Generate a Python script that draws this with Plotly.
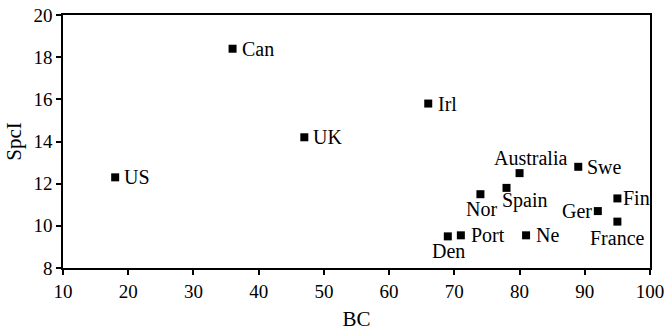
import plotly.graph_objects as go

countries = ["US", "Can", "UK", "Irl", "Australia", "Swe", "Spain", "Nor", "Fin", "Ger", "France", "Den", "Port", "Ne"]
bc = [18, 36, 47, 66, 80, 89, 78, 74, 95, 92, 95, 69, 71, 81]
spci = [12.3, 18.4, 14.2, 15.8, 12.5, 12.8, 11.8, 11.5, 11.3, 10.7, 10.2, 9.5, 9.55, 9.55]

# label placement: (xanchor, xshift, yshift)
placement = {
    "US": ("left", 7, 0), "Can": ("left", 7, 0), "UK": ("left", 7, 0), "Irl": ("left", 8, 0),
    "Australia": ("center", 11, 15), "Swe": ("left", 7, 0), "Spain": ("center", 18, -13),
    "Nor": ("center", 1, -15), "Fin": ("left", 4, 0), "Ger": ("right", -4, 0),
    "France": ("center", 0, -16), "Den": ("center", 1, -15), "Port": ("left", 8, 0), "Ne": ("left", 8, 0),
}

font = "Liberation Serif"

fig = go.Figure()
fig.add_trace(go.Scatter(x=bc, y=spci, mode="markers",
                         marker=dict(symbol="square", size=8, color="black"),
                         hoverinfo="text", text=countries))

for c, x, y in zip(countries, bc, spci):
    xa, xs, ys = placement[c]
    fig.add_annotation(x=x, y=y, text=c, showarrow=False, xanchor=xa, yanchor="middle",
                       xshift=xs, yshift=ys, font=dict(family=font, size=20, color="black"))

fig.update_layout(
    width=669, height=331,
    margin=dict(l=63, r=19, t=15, b=63, autoexpand=False),
    plot_bgcolor="white", paper_bgcolor="white",
    showlegend=False,
    font=dict(family=font, size=19, color="black"),
)
fig.update_xaxes(range=[10, 100], dtick=10, showgrid=False, zeroline=False, automargin=False,
                 showline=True, linecolor="black", linewidth=1.5, mirror=True,
                 ticks="outside", ticklen=5, tickcolor="black", tickwidth=1.5,
                 title=dict(text="BC", font=dict(size=21), standoff=12))
fig.update_yaxes(range=[8, 20], dtick=2, showgrid=False, zeroline=False, automargin=False,
                 showline=True, linecolor="black", linewidth=1.5, mirror=True,
                 ticks="outside", ticklen=5, tickcolor="black", tickwidth=1.5,
                 title=dict(text="SpcI", font=dict(size=21), standoff=6))

fig.write_html("out.html", config={"displayModeBar": False},
               post_script="document.body.style.margin='0';")
